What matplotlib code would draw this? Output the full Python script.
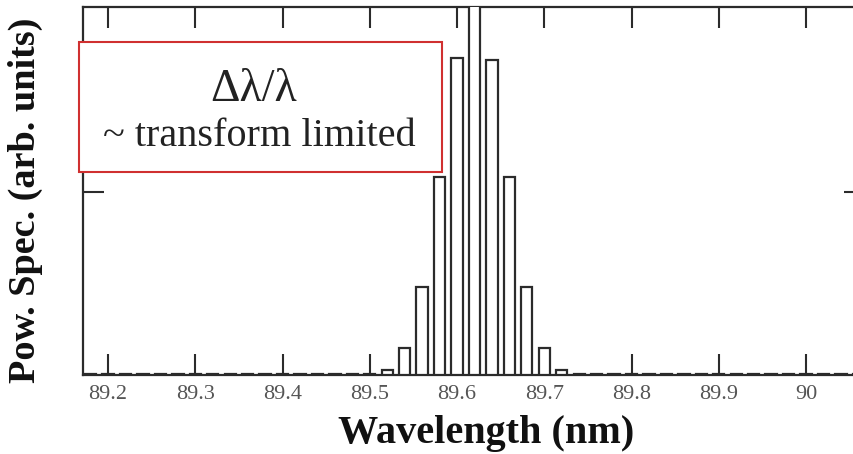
import numpy as np
import matplotlib
matplotlib.use("Agg")
import matplotlib.pyplot as plt
from matplotlib.patches import Rectangle

# Spectral comb lines (nm) and their power (arb. units); lines outside the
# central cluster carry only a trace of power.
wavelengths_nm = [round(89.18 + 0.02 * i, 2) for i in range(45)]
power_nonzero = {
    89.52: 0.03, 89.54: 0.15, 89.56: 0.48, 89.58: 1.08, 89.60: 1.73,
    89.62: 2.05, 89.64: 1.72, 89.66: 1.08, 89.68: 0.48, 89.70: 0.15,
    89.72: 0.03,
}
trace_level = 0.008
power = [power_nonzero.get(w, trace_level) for w in wavelengths_nm]

xticks = [89.2, 89.3, 89.4, 89.5, 89.6, 89.7, 89.8, 89.9, 90.0]
xtick_labels = ["89.2", "89.3", "89.4", "89.5", "89.6", "89.7", "89.8", "89.9", "90"]

W, H = 854, 454
fig = plt.figure(figsize=(W / 100, H / 100), dpi=100)
plt.rcParams["font.family"] = ["Liberation Serif", "DejaVu Serif"]

left, right, top, bottom = 83, 865, 7, 375
ax = fig.add_axes([left / W, 1 - bottom / H, (right - left) / W, (bottom - top) / H])

ink = "#2b2b2b"
ax.bar(wavelengths_nm, power, width=0.013, facecolor="white",
       edgecolor=ink, linewidth=1.6, zorder=3)

ax.set_xlim(89.1713, 90.0676)
ax.set_ylim(0, 2.01)
ax.set_xticks(xticks)
ax.set_xticklabels(xtick_labels, fontsize=16, color="#555555")
ax.set_yticks([1])
ax.set_yticklabels([])
ax.tick_params(direction="in", length=15, width=1.5, color=ink,
               top=True, right=True, pad=7)
for s in ax.spines.values():
    s.set_color(ink)
    s.set_linewidth(1.6)

fig.text(486 / W, 1 - 433 / H, "Wavelength (nm)", ha="center", va="center",
         fontsize=29, fontweight="bold", color="#111111")
fig.text(25 / W, 1 - 200 / H, "Pow. Spec. (arb. units)", ha="center",
         va="center", rotation=90, fontsize=27.5, fontweight="bold",
         color="#111111")

# Annotation box
bx0, bx1, by0, by1 = 79, 442, 42, 172
fig.patches.append(Rectangle((bx0 / W, 1 - by1 / H), (bx1 - bx0) / W,
                             (by1 - by0) / H, transform=fig.transFigure,
                             facecolor="white", edgecolor="#d03030",
                             linewidth=1.5, zorder=5))
fig.text(254 / W, 1 - 90 / H, "Δλ/λ", ha="center", va="center",
         fontsize=33, color="#222222", zorder=6)
fig.text(259 / W, 1 - 137 / H, "~ transform limited", ha="center",
         va="center", fontsize=29, color="#222222", zorder=6)

fig.savefig("out.png", dpi=100)
